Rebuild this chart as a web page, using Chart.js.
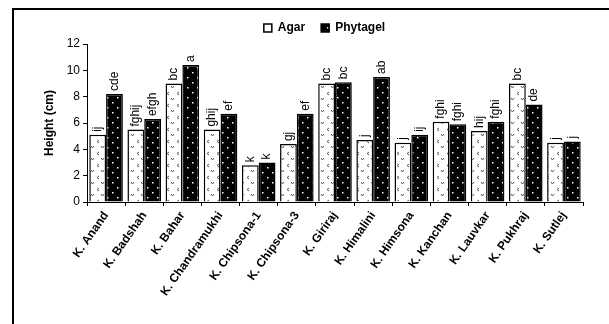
<!DOCTYPE html>
<html>
<head>
<meta charset="utf-8">
<script src="https://cdn.jsdelivr.net/npm/chart.js@4.4.1/dist/chart.umd.min.js"></script>
<style>
  html, body { margin: 0; padding: 0; background: #fff; overflow: hidden; }
  #wrap { position: relative; width: 609px; height: 324px; }
  #frame { position: absolute; left: 12px; top: 8px; width: 700px; height: 400px;
           border-top: 2px solid #000; border-left: 2px solid #000; }
  canvas { position: absolute; left: 0; top: 0; }
</style>
</head>
<body>
<div id="wrap">
  <div id="frame"></div>
  <canvas id="heightChart" width="609" height="324"></canvas>
</div>
<script>
const cultivars = ["K. Anand", "K. Badshah", "K. Bahar", "K. Chandramukhi", "K. Chipsona-1",
    "K. Chipsona-3", "K. Giriraj", "K. Himalini", "K. Himsona", "K. Kanchan",
    "K. Lauvkar", "K. Pukhraj", "K. Sutlej"];
const agar = [5.1, 5.5, 9.0, 5.5, 2.8, 4.4, 9.0, 4.7, 4.5, 6.1, 5.4, 9.0, 4.5];
const phytagel = [8.2, 6.3, 10.4, 6.7, 3.0, 6.7, 9.1, 9.5, 5.1, 5.9, 6.1, 7.4, 4.6];
const agarLetters = ["ij", "fghij", "bc", "ghij", "k", "gj", "bc", "j", "j", "fghi", "hij", "bc", "j"];
const phytagelLetters = ["cde", "efgh", "a", "ef", "k", "ef", "bc", "ab", "ij", "fghi", "fghi", "de", "j"];

function makePattern(bg, draw, w, h) {
    const c = document.createElement('canvas');
    c.width = w;
    c.height = h;
    const g = c.getContext('2d');
    g.fillStyle = bg;
    g.fillRect(0, 0, w, h);
    draw(g);
    return c.getContext('2d').createPattern(c, 'repeat');
}

const ctx = document.getElementById('heightChart').getContext('2d');

// white with small grey chevrons
const agarFill = makePattern('#fff', g => {
    g.strokeStyle = '#555';
    g.lineWidth = 1;
    g.beginPath();
    g.moveTo(1, 2); g.lineTo(2.5, 4); g.lineTo(4, 2);
    g.moveTo(9, 8); g.lineTo(7, 9.5); g.lineTo(9, 11);
    g.stroke();
}, 10, 12);

// black with white dots
const phytaFill = makePattern('#000', g => {
    g.fillStyle = '#fff';
    g.fillRect(2, 2, 1.5, 1.5);
    g.fillRect(7, 7, 1.5, 1.5);
}, 10, 10);

// significance letters, rotated, just above each bar
const letterPlugin = {
    id: 'letters',
    afterLayout(chart) {
        // legend sits a bit right of centre in the original
        chart.legend.left += 13;
        chart.legend.right += 13;
    },
    afterDatasetsDraw(chart) {
        const c = chart.ctx;
        const sets = [agarLetters, phytagelLetters];
        c.save();
        c.fillStyle = '#000';
        c.font = '12px "Liberation Sans", Arial, sans-serif';
        sets.forEach((letters, di) => {
            chart.getDatasetMeta(di).data.forEach((bar, i) => {
                c.save();
                c.translate(bar.x, bar.y - 3);
                c.rotate(-Math.PI / 2);
                c.textAlign = 'left';
                c.textBaseline = 'middle';
                c.fillText(letters[i], 0, 0);
                c.restore();
            });
        });
        c.restore();
    }
};

new Chart(ctx, {
    type: 'bar',
    data: {
        labels: cultivars,
        datasets: [{
            label: 'Agar',
            data: agar,
            backgroundColor: agarFill,
            borderColor: '#000',
            borderWidth: 1.5,
            categoryPercentage: 0.88,
            barPercentage: 1.0
        }, {
            label: 'Phytagel',
            data: phytagel,
            backgroundColor: phytaFill,
            borderColor: '#000',
            borderWidth: 1.5,
            categoryPercentage: 0.88,
            barPercentage: 1.0
        }]
    },
    options: {
        responsive: false,
        animation: false,
        layout: { padding: { left: 40, right: 26, top: 6, bottom: 0 } },
        plugins: {
            tooltip: { enabled: false },
            legend: {
                position: 'top',
                labels: {
                    boxWidth: 8,
                    boxHeight: 8,
                    color: '#000',
                    padding: 16,
                    font: { family: '"Liberation Sans", Arial, sans-serif', size: 12, weight: 'bold' }
                }
            }
        },
        scales: {
            x: {
                grid: { drawOnChartArea: false, drawTicks: true, tickLength: 4, color: '#000' },
                border: { display: true, color: '#000', width: 1 },
                ticks: {
                    color: '#000',
                    minRotation: 55,
                    maxRotation: 55,
                    autoSkip: false,
                    font: { family: '"Liberation Sans", Arial, sans-serif', size: 12, weight: 'bold' }
                },
                afterFit(scale) { scale.height = 122; }
            },
            y: {
                min: 0,
                max: 12,
                ticks: {
                    stepSize: 2,
                    color: '#000',
                    padding: 3,
                    font: { family: '"Liberation Sans", Arial, sans-serif', size: 12 }
                },
                grid: { drawOnChartArea: false, drawTicks: true, tickLength: 4, color: '#000' },
                border: { display: true, color: '#000', width: 1 },
                title: {
                    display: true,
                    text: 'Height (cm)',
                    color: '#000',
                    padding: { top: 2, bottom: 4 },
                    font: { family: '"Liberation Sans", Arial, sans-serif', size: 12, weight: 'bold' }
                },
                afterFit(scale) { scale.width = 47; }
            }
        }
    },
    plugins: [letterPlugin]
});
</script>
</body>
</html>
